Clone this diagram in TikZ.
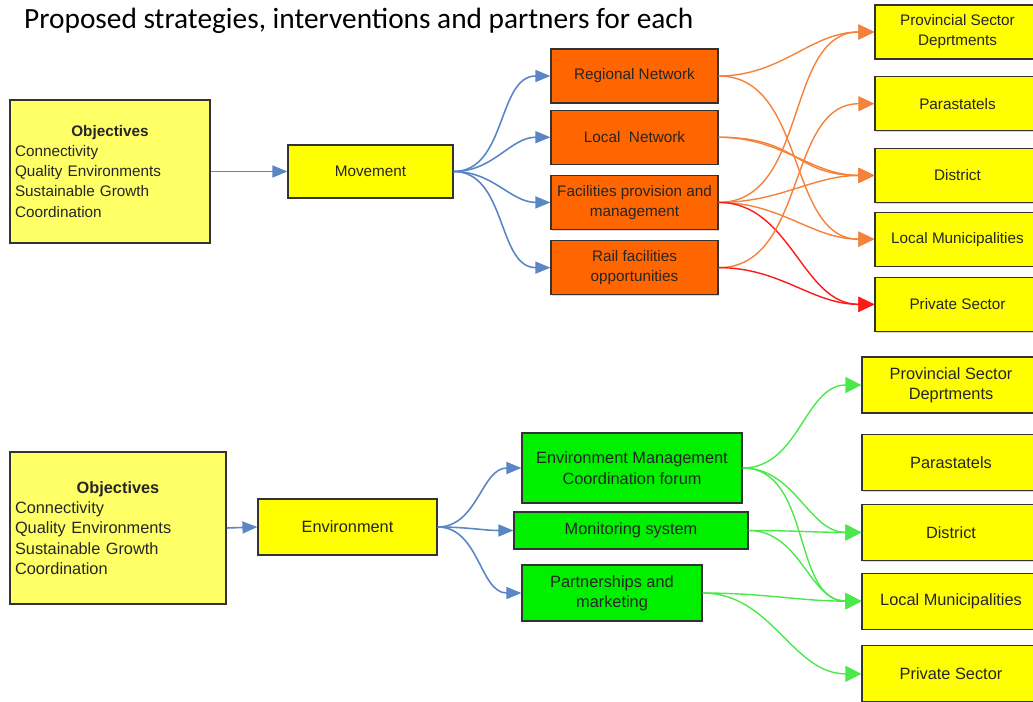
\documentclass[tikz,border=0pt]{standalone}
\usepackage{fontspec}
\setmainfont{Liberation Sans}
\newfontfamily\titlefont{Carlito}
\usetikzlibrary{arrows.meta, positioning, shadows}
\definecolor{objyellow}{HTML}{FFFF66}
\definecolor{boxyellow}{HTML}{FFFF00}
\definecolor{boxorange}{HTML}{FF6600}
\definecolor{boxgreen}{HTML}{00F000}
\definecolor{linkblue}{HTML}{5B86C5}
\definecolor{linkorange}{HTML}{F5823A}
\definecolor{linkred}{HTML}{FF1A1A}
\definecolor{linkgreen}{HTML}{4BE84B}
\tikzset{%
	box/.style={draw=black!80, line width=0.7pt, rectangle, inner sep=1mm, align=center,%
		text=black!85, drop shadow={shadow xshift=0.7pt, shadow yshift=-0.7pt, opacity=0.3}},
	small/.style={font=\fontsize{8.7}{11.4}\selectfont},
	large/.style={font=\fontsize{9.3}{11.6}\selectfont},
	obj/.style={box, fill=objyellow, align=left},
	topic/.style={box, fill=boxyellow},
	partner/.style={box, fill=boxyellow},
	mstrat/.style={box, fill=boxorange, minimum width=3.34cm, minimum height=1.08cm},
	estrat/.style={box, fill=boxgreen},
	link/.style={-{Triangle[length=3mm,width=2.4mm]}, linkblue, line width=0.9pt},
	olink/.style={-{Triangle[length=3.2mm,width=3mm]}, linkorange, line width=0.8pt},
	rlink/.style={olink, linkred},
	glink/.style={-{Triangle[length=3.2mm,width=3.2mm]}, linkgreen, line width=0.8pt},
	swing/.style={out=0, in=180}
}
\begin{document}
\begin{tikzpicture}[x=0.02cm, y=-0.02cm]
			\useasboundingbox (0,0) rectangle (1033,702);
			\node[anchor=base west, font=\titlefont\fontsize{16.7}{19}\selectfont] (title) at (18,29)
				{Proposed strategies, interventions and partners for each};

			% movement
			\node[obj, small, minimum width=4cm, minimum height=2.86cm, text width=3.8cm] (t-obj) at (110,171.5)
				{\makebox[\linewidth]{\textbf{Objectives}}\\Connectivity\\Quality Environments\\Sustainable Growth\\Coordination};
			\node[topic, small, minimum width=3.3cm, minimum height=1.06cm] (t-mov) at (370.5,171.5) {Movement};
			\node[mstrat, small] (t-reg) at (634.5,76) {Regional Network};
			\node[mstrat, small] (t-loc) [below=0.12cm of t-reg] {Local\ \ Network};
			\node[mstrat, small] (t-fac) [below=0.2cm of t-loc] {Facilities provision and\\management};
			\node[mstrat, small] (t-rail) [below=0.2cm of t-fac] {Rail facilities\\opportunities};
			\node[partner, small, minimum width=3.3cm, minimum height=1.08cm] (t-prov) at (957.5,32) {Provincial Sector\\Deprtments};
			\node[partner, small, minimum width=3.3cm, minimum height=1.08cm] (t-para) [below=0.33cm of t-prov] {Parastatels};
			\node[partner, small, minimum width=3.3cm, minimum height=1.08cm] (t-dist) [below=0.33cm of t-para] {District};
			\node[partner, small, minimum width=3.3cm, minimum height=1.08cm] (t-locmun) [below=0.17cm of t-dist] {Local Municipalities};
			\node[partner, small, minimum width=3.3cm, minimum height=1.08cm] (t-priv) [below=0.2cm of t-locmun] {Private Sector};

			\draw [link] (t-obj.east) -- (t-mov.west);
			\foreach \s in {t-reg, t-loc, t-fac, t-rail}
				\draw [link] (t-mov.east) to[swing] (\s.west);
			\draw [olink] (t-reg.east) to[swing] (t-prov.west);
			\draw [olink] (t-reg.east) to[swing] (t-locmun.west);
			\draw [olink] (t-loc.east) to[swing] (t-dist.west);
			\draw [olink] (t-loc.east) to[swing, looseness=1.3] (t-dist.west);
			\draw [olink] (t-fac.east) to[swing] (t-prov.west);
			\draw [olink] (t-fac.east) to[swing] (t-dist.west);
			\draw [olink] (t-fac.east) to[swing] (t-locmun.west);
			\draw [rlink] (t-fac.east) to[swing] (t-priv.west);
			\draw [olink] (t-rail.east) to[swing] (t-para.west);
			\draw [rlink] (t-rail.east) to[swing] (t-priv.west);

			% environment
			\node[obj, large, minimum width=4.32cm, minimum height=3.04cm, text width=4.12cm] (b-obj) at (118,528)
				{\makebox[\linewidth]{\textbf{Objectives}}\\Connectivity\\Quality Environments\\Sustainable Growth\\Coordination};
			\node[topic, large, minimum width=3.58cm, minimum height=1.12cm] (b-env) at (347.5,527) {Environment};
			\node[estrat, large, minimum width=4.4cm, minimum height=1.4cm] (b-emc) at (632,468) {Environment Management\\Coordination forum};
			\node[estrat, large, minimum width=4.68cm, minimum height=0.74cm] (b-mon) at (631,530.5) {Monitoring system};
			\node[estrat, large, minimum width=3.6cm, minimum height=1.12cm] (b-part) at (612,593) {Partnerships and\\marketing};
			\node[partner, large, minimum width=3.56cm, minimum height=1.12cm] (b-prov) at (951,385) {Provincial Sector\\Deprtments};
			\node[partner, large, minimum width=3.56cm, minimum height=1.12cm] (b-para) [below=0.41cm of b-prov] {Parastatels};
			\node[partner, large, minimum width=3.56cm, minimum height=1.12cm] (b-dist) [below=0.25cm of b-para] {District};
			\node[partner, large, minimum width=3.56cm, minimum height=1.12cm] (b-locmun) [below=0.23cm of b-dist] {Local Municipalities};
			\node[partner, large, minimum width=3.56cm, minimum height=1.12cm] (b-priv) [below=0.31cm of b-locmun] {Private Sector};

			\draw [link] (b-obj.east) -- (b-env.west);
			\foreach \s in {b-emc, b-mon, b-part}
				\draw [link] (b-env.east) to[swing] (\s.west);
			\draw [glink] (b-emc.east) to[swing] (b-prov.west);
			\draw [glink] (b-emc.east) to[swing] (b-dist.west);
			\draw [glink] (b-emc.east) to[swing] (b-locmun.west);
			\draw [glink] (b-mon.east) to[swing] (b-dist.west);
			\draw [glink] (b-mon.east) to[swing] (b-locmun.west);
			\draw [glink] (b-part.east) to[swing] (b-locmun.west);
			\draw [glink] (b-part.east) to[swing] (b-priv.west);
		\end{tikzpicture}
\end{document}
